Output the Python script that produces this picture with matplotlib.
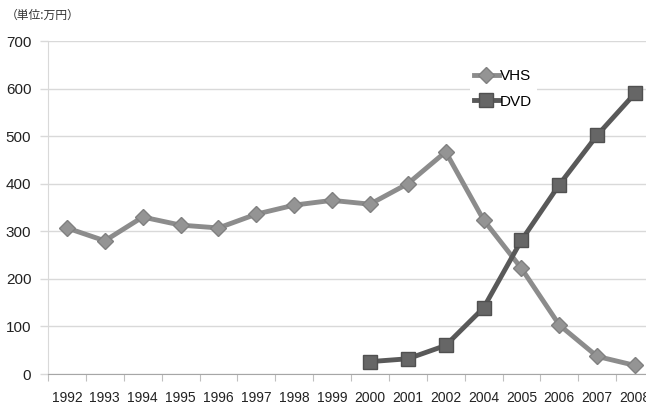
import matplotlib
matplotlib.use("Agg")
import matplotlib.pyplot as plt
import numpy as np

years = ["1992", "1993", "1994", "1995", "1996", "1997", "1998", "1999",
         "2000", "2001", "2002", "2004", "2005", "2006", "2007", "2008"]
vhs = [307, 280, 330, 313, 307, 336, 355, 365, 357, 400, 467, 324, 222, 103, 37, 18]
dvd_years = ["2000", "2001", "2002", "2004", "2005", "2006", "2007", "2008"]
dvd = [26, 32, 60, 139, 281, 398, 502, 590]
yticks = [0, 100, 200, 300, 400, 500, 600, 700]

plt.rcParams['font.family'] = ['Liberation Sans', 'DejaVu Sans']

W, H = 646, 404
fig = plt.figure(figsize=(W / 100, H / 100), dpi=100)
ax = fig.add_axes([48 / W, 30 / H, (654 - 48) / W, (374 - 41) / H])

x = np.arange(len(years))
xd = [years.index(y) for y in dvd_years]

ax.plot(x, vhs, color='#8c8c8c', lw=3.5, marker='D', ms=8,
        mfc='#949494', mec='#808080', label='VHS', zorder=3)
ax.plot(xd, dvd, color='#595959', lw=3.5, marker='s', ms=10,
        mfc='#666666', mec='#505050', label='DVD', zorder=4)

ax.set_xlim(-0.5, len(years) - 0.5)
ax.set_ylim(0, 700)
ax.set_yticks(yticks)
ax.yaxis.grid(True, color='#d9d9d9', lw=1)
ax.set_axisbelow(True)

ax.set_xticks(np.arange(-0.5, len(years)), [])
ax.set_xticks(x, years, minor=True)
ax.tick_params(axis='x', which='major', length=5, color='#bfbfbf', direction='out')
ax.tick_params(axis='x', which='minor', length=0, labelsize=10, pad=12, colors='#222222')
ax.tick_params(axis='y', length=6, width=1, labelsize=11, pad=6, labelcolor='#222222', color='#d9d9d9')

for s in ['top', 'right']:
    ax.spines[s].set_visible(False)
ax.spines['left'].set_color('#d9d9d9')
ax.spines['bottom'].set_color('#a6a6a6')

leg = ax.legend(loc='upper left', bbox_to_anchor=((462 - 48) / (654 - 48), (374 - 57) / (374 - 41)),
                frameon=True, fontsize=11, handlelength=1.6, handletextpad=0.1,
                labelspacing=0.75, borderpad=0.3)
leg.get_frame().set_facecolor('white')
leg.get_frame().set_edgecolor('none')
leg.get_frame().set_alpha(1)

fig.text(6 / W, 1 - 15 / H, '（単位:万円）', fontsize=8.5,
         family=['Noto Sans CJK JP', 'DejaVu Sans'], color='#333333', va='center')

fig.savefig('out.png', dpi=100)
